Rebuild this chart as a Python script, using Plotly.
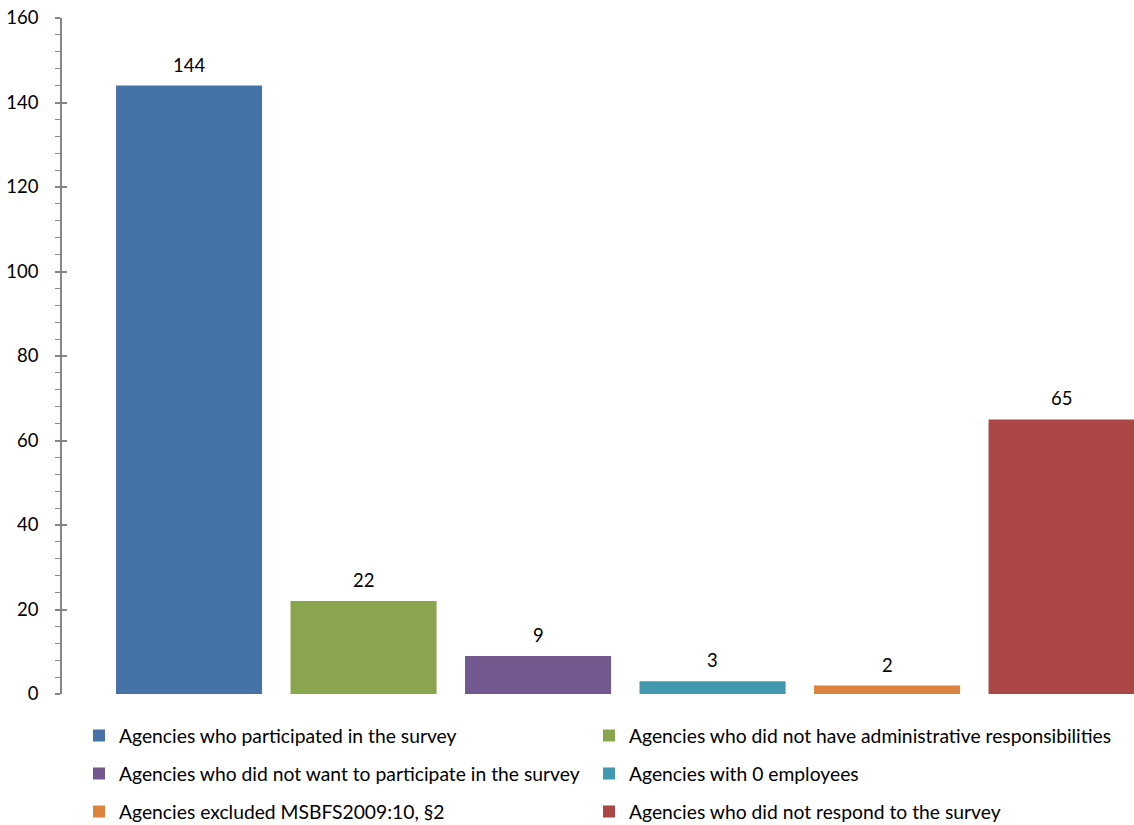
import plotly.graph_objects as go

categories = [
    "Agencies who participated in the survey",
    "Agencies who did not have administrative responsibilities",
    "Agencies who did not want to participate in the survey",
    "Agencies with 0 employees",
    "Agencies excluded MSBFS2009:10, §2",
    "Agencies who did not respond to the survey",
]
values = [144, 22, 9, 3, 2, 65]
colors = ["#4572A7", "#89A54E", "#71588F", "#4198AF", "#DB843D", "#AA4643"]
legend_ids = ["legend", "legend2", "legend3", "legend4", "legend5", "legend6"]

FONT = "Lato"
fig = go.Figure()
for cat, val, col, lg in zip(categories, values, colors, legend_ids):
    fig.add_trace(go.Bar(
        x=[cat], y=[val], name=cat, marker_color=col, marker_line_width=0,
        width=0.837, legend=lg, showlegend=True,
    ))
    fig.add_annotation(x=cat, y=val, text=str(val), showarrow=False,
                       yanchor="bottom", yshift=8,
                       font=dict(family=FONT, size=18.5, color="#000000"))

leg_common = dict(orientation="h", xref="container", yref="container",
                  xanchor="left", yanchor="middle", bgcolor="rgba(0,0,0,0)",
                  font=dict(family=FONT, size=19.3, color="#000000"),
                  itemclick=False, itemdoubleclick=False)
col_x = [79 / 1134, 589 / 1134]
row_y = [1 - 736 / 825, 1 - 774 / 825, 1 - 812 / 825]
legends = {}
for i, lg in enumerate(legend_ids):
    legends[lg] = dict(x=col_x[i % 2], y=row_y[i // 2], **leg_common)

fig.update_layout(
    width=1134, height=825,
    margin=dict(l=62, r=0, t=18, b=131),
    paper_bgcolor="white", plot_bgcolor="white",
    barmode="overlay",
    font=dict(family=FONT, size=18.5, color="#000000"),
    xaxis=dict(type="category", categoryorder="array", categoryarray=categories,
               range=[-0.728, 5.415], showticklabels=False, showline=False,
               showgrid=False, zeroline=False, ticks=""),
    yaxis=dict(range=[0, 160], dtick=20, tick0=0, showgrid=False, zeroline=False,
               showline=True, linecolor="#868686", linewidth=1.5,
               ticks="outside", ticklen=5, tickcolor="#868686", tickwidth=1.5,
               ticklabelstandoff=13,
               minor=dict(dtick=4, ticks="outside", ticklen=5, tickcolor="#868686", tickwidth=1),
               tickfont=dict(family=FONT, size=18.5, color="#000000")),
    yaxis2=dict(range=[0, 160], dtick=20, tick0=0, overlaying="y", side="left",
                showgrid=False, zeroline=False, showline=False, showticklabels=False,
                ticks="inside", ticklen=5, tickcolor="#868686", tickwidth=1.5),
    **legends,
)
fig.add_trace(go.Scatter(x=[categories[0]], y=[0], yaxis="y2", mode="markers",
                         marker=dict(opacity=0), showlegend=False, hoverinfo="skip"))
fig.write_html("out.html")
